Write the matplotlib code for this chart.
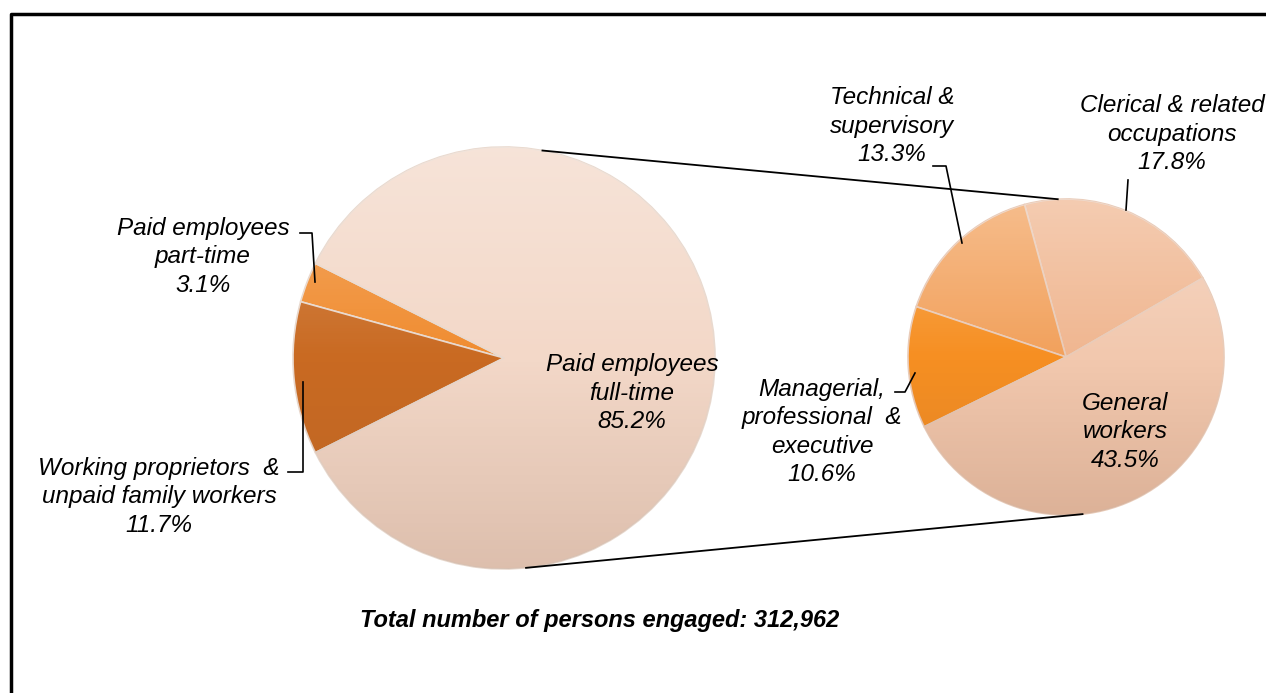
import matplotlib.pyplot as plt
import numpy as np

# Donnees
main_labels = ['Paid employees\npart-time', 'Working proprietors  &\nunpaid family workers',
               'Paid employees\nfull-time']
main_values = [3.1, 11.7, 85.2]
main_colors = ['#f08c30', '#c96a22', '#f3d8c8']

sub_labels = ['Clerical & related\noccupations', 'Technical &\nsupervisory',
              'Managerial,\nprofessional  &\nexecutive', 'General\nworkers']
sub_values = [17.8, 13.3, 10.6, 43.5]
sub_colors = ['#f0b690', '#f2a15c', '#f68f22', '#f2c8ae']

total_persons = 312962

W, H = 1266, 693


def Y(y):
    # position en pixels (depuis le haut) -> coordonnees de l'axe
    return H - y


fig = plt.figure(figsize=(W / 100, H / 100), dpi=100)
ax = fig.add_axes([0, 0, 1, 1])

# Camembert principal
c1, r1 = (504, Y(358)), 211
split = sum(main_values[:2])
w1, _ = ax.pie(main_values, colors=main_colors, center=c1, radius=r1,
               startangle=180 - split / 100 * 360 / 2, counterclock=True,
               wedgeprops=dict(edgecolor='#e9d9ce', linewidth=1.2))

# Camembert secondaire
c2, r2 = (1066, Y(357)), 158
w2, _ = ax.pie(sub_values, colors=sub_colors, center=c2, radius=r2,
               startangle=30, counterclock=True,
               wedgeprops=dict(edgecolor='#e9cbb8', linewidth=1.2))

# Degrade vertical (haut clair, bas plus sombre) pour l'effet de relief
t = np.linspace(0, 1, 256)
grad = np.zeros((256, 1, 4))
grad[:, 0, 0] = np.where(t > 0.5, 1.0, 0.5)
grad[:, 0, 1] = np.where(t > 0.5, 1.0, 0.32)
grad[:, 0, 2] = np.where(t > 0.5, 1.0, 0.22)
grad[:, 0, 3] = np.abs(t - 0.5) * np.where(t > 0.5, 0.6, 0.38)
for wedges, c, r in [(w1, c1, r1), (w2, c2, r2)]:
    for w in wedges:
        im = ax.imshow(grad, extent=(c[0] - r, c[0] + r, c[1] - r, c[1] + r),
                       origin='lower', aspect='auto', interpolation='bilinear',
                       zorder=1.5)
        im.set_clip_path(w)

ax.set_xlim(0, W)
ax.set_ylim(0, H)
ax.set_aspect('auto')
ax.axis('off')


# Lignes de liaison
def pt(c, r, a):
    return c[0] + r * np.cos(np.radians(a)), c[1] + r * np.sin(np.radians(a))


for a1, a2 in [(79.5, 93), (-84, -84)]:
    p, q = pt(c1, r1, a1), pt(c2, r2, a2)
    ax.plot([p[0], q[0]], [p[1], q[1]], color='black', lw=1.3, zorder=3)

# Etiquettes
font = dict(family='Liberation Sans', style='italic', fontsize=17.5,
            ha='center', va='center', linespacing=1.3, zorder=4)

ax.text(203, Y(257), f'{main_labels[0]}\n{main_values[0]}%', **font)
ax.text(159, Y(497), f'{main_labels[1]}\n{main_values[1]}%', **font)
ax.text(632, Y(393), f'{main_labels[2]}\n{main_values[2]}%', **font)
ax.text(1172, Y(134), f'{sub_labels[0]}\n{sub_values[0]}%', **font)
ax.text(892, Y(126), f'{sub_labels[1]}\n{sub_values[1]}%', **font)
ax.text(822, Y(432), f'{sub_labels[2]}\n{sub_values[2]}%', **font)
ax.text(1125, Y(432), f'{sub_labels[3]}\n{sub_values[3]}%', **font)

# Traits de rappel
leaders = [
    [(300, 233), (312, 233), (315, 282)],
    [(288, 472), (303, 472), (303, 382)],
    [(933, 166), (946, 166), (962, 243)],
    [(1128, 180), (1126, 210)],
    [(895, 392), (905, 392), (915, 373)],
]
for pts in leaders:
    ax.plot([p[0] for p in pts], [Y(p[1]) for p in pts], color='black',
            lw=1.2, zorder=3)

ax.text(600, Y(621), f'Total number of persons engaged: {total_persons:,}',
        family='Liberation Sans', style='italic', weight='bold', fontsize=17,
        ha='center', va='center')

# Cadre (haut et gauche)
ax.plot([11, 11, W + 5], [-5, Y(14), Y(14)], color='black', lw=2.5,
        clip_on=False)

fig.savefig('out.png', dpi=100)
